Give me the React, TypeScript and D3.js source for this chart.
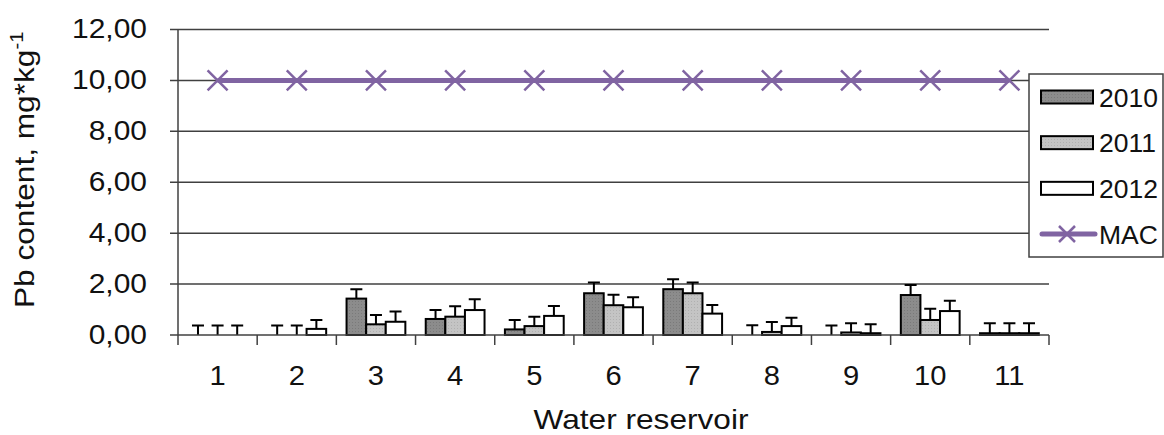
import React, { useEffect, useRef } from 'react';
import * as d3 from 'd3';

const categories = ['1', '2', '3', '4', '5', '6', '7', '8', '9', '10', '11'];
const years = ['2010', '2011', '2012'];
const values2010 = [0, 0, 1.43, 0.63, 0.22, 1.64, 1.8, 0, 0, 1.57, 0.07];
const values2011 = [0, 0, 0.42, 0.72, 0.35, 1.17, 1.64, 0.12, 0.1, 0.59, 0.07];
const values2012 = [0, 0.24, 0.52, 0.98, 0.75, 1.09, 0.84, 0.35, 0.07, 0.94, 0.07];
const errors2010 = [0.37, 0.37, 0.37, 0.35, 0.37, 0.42, 0.39, 0.38, 0.37, 0.39, 0.39];
const errors2011 = [0.37, 0.37, 0.37, 0.41, 0.37, 0.41, 0.42, 0.39, 0.36, 0.44, 0.39];
const errors2012 = [0.37, 0.35, 0.4, 0.42, 0.39, 0.39, 0.34, 0.33, 0.35, 0.41, 0.39];
const macValues = [10, 10, 10, 10, 10, 10, 10, 10, 10, 10, 10];
const yTicks = [0, 2, 4, 6, 8, 10, 12];

const fills = ['#8c8c8c', '#c4c4c4', '#ffffff'];
const purple = '#8064a2';
const font = '"Liberation Sans", Arial, sans-serif';
const ink = '#111';

function App() {
  const ref = useRef<SVGSVGElement>(null);

  useEffect(() => {
    const svg = d3.select(ref.current);
    svg.selectAll('*').remove();

    const margin = { top: 29.5, left: 178, right: 1049, bottom: 335 };
    const x = d3.scaleBand().domain(categories).range([margin.left, margin.right]);
    const xs = d3.scaleBand().domain(years).range([0, x.bandwidth()]).paddingOuter(0.52);
    const y = d3.scaleLinear().domain([0, 12]).range([margin.bottom, margin.top]);

    // dotted grey fills
    const defs = svg.append('defs');
    const pat = defs.append('pattern').attr('id', 'dots').attr('width', 3).attr('height', 3)
      .attr('patternUnits', 'userSpaceOnUse');
    pat.append('rect').attr('width', 3).attr('height', 3).attr('fill', fills[0]);
    pat.append('rect').attr('x', 1).attr('y', 1).attr('width', 1).attr('height', 1).attr('fill', '#7a7a7a');
    const pat2 = defs.append('pattern').attr('id', 'dots2').attr('width', 3).attr('height', 3)
      .attr('patternUnits', 'userSpaceOnUse');
    pat2.append('rect').attr('width', 3).attr('height', 3).attr('fill', fills[1]);
    pat2.append('rect').attr('x', 1).attr('y', 1).attr('width', 1).attr('height', 1).attr('fill', '#b0b0b0');
    const fillRefs = ['url(#dots)', 'url(#dots2)', fills[2]];

    // gridlines + y labels
    svg.append('g').selectAll('line').data(yTicks.filter(d => d > 0)).enter().append('line')
      .attr('x1', margin.left - 8).attr('x2', margin.right)
      .attr('y1', d => y(d)).attr('y2', d => y(d))
      .attr('stroke', '#404040').attr('stroke-width', 1.5);

    svg.append('g').selectAll('text').data(yTicks).enter().append('text')
      .attr('transform', d => `translate(147,${y(d) + 8.5}) scale(1.07,1)`)
      .attr('text-anchor', 'end').style('font-family', font).style('font-size', '28px')
      .attr('fill', ink)
      .text(d => d3.format('.2f')(d).replace('.', ','));

    // bars
    const series = [values2010, values2011, values2012];
    const errs = [errors2010, errors2011, errors2012];
    series.forEach((vals, si) => {
      const g = svg.append('g');
      const bx = (i: number) => (x(categories[i]) as number) + (xs(years[si]) as number);
      g.selectAll('rect').data(vals).enter().append('rect')
        .attr('x', (d, i) => bx(i))
        .attr('y', d => y(d))
        .attr('width', xs.bandwidth())
        .attr('height', d => y(0) - y(d))
        .attr('fill', fillRefs[si])
        .attr('stroke', '#000').attr('stroke-width', 2);
      // error bars
      g.selectAll('path.err').data(vals).enter().append('path')
        .attr('class', 'err')
        .attr('d', (d, i) => {
          const cx = bx(i) + xs.bandwidth() / 2;
          const top = y(d + errs[si][i]);
          return `M${cx},${y(d)}V${top}M${cx - 6},${top}H${cx + 6}`;
        })
        .attr('fill', 'none').attr('stroke', '#000').attr('stroke-width', 2);
    });

    // axes lines
    svg.append('line').attr('x1', margin.left - 8).attr('x2', margin.right)
      .attr('y1', y(0)).attr('y2', y(0)).attr('stroke', '#404040').attr('stroke-width', 1.5);
    svg.append('line').attr('x1', margin.left).attr('x2', margin.left)
      .attr('y1', y(12)).attr('y2', y(0) + 10).attr('stroke', '#404040').attr('stroke-width', 1.5);
    const bounds = categories.map(c => (x(c) as number) + x.bandwidth());
    svg.append('g').selectAll('line').data(bounds).enter().append('line')
      .attr('x1', d => d).attr('x2', d => d)
      .attr('y1', y(0)).attr('y2', y(0) + 10).attr('stroke', '#404040').attr('stroke-width', 1.5);

    svg.append('g').selectAll('text').data(categories).enter().append('text')
      .attr('transform', d => `translate(${(x(d) as number) + x.bandwidth() / 2},385) scale(1.04,1)`)
      .attr('text-anchor', 'middle').style('font-family', font).style('font-size', '28px')
      .attr('fill', ink).text(d => d);

    // MAC line
    const line = d3.line<number>()
      .x((d, i) => (x(categories[i]) as number) + x.bandwidth() / 2)
      .y(d => y(d));
    svg.append('path').datum(macValues).attr('d', line)
      .attr('fill', 'none').attr('stroke', purple).attr('stroke-width', 5);
    svg.append('g').selectAll('path').data(macValues).enter().append('path')
      .attr('d', (d, i) => {
        const cx = (x(categories[i]) as number) + x.bandwidth() / 2;
        const cy = y(d);
        return `M${cx - 10},${cy - 10}L${cx + 10},${cy + 10}M${cx - 10},${cy + 10}L${cx + 10},${cy - 10}`;
      })
      .attr('stroke', purple).attr('stroke-width', 2.5);

    // titles
    svg.append('text').attr('transform', 'translate(641,428.5) scale(1.13,1)')
      .attr('text-anchor', 'middle').style('font-family', font).style('font-size', '28px')
      .attr('fill', ink).text('Water reservoir');
    const yt = svg.append('text').attr('transform', 'translate(34,308) rotate(-90) scale(1.13,1)')
      .attr('text-anchor', 'start').style('font-family', font).style('font-size', '28px')
      .attr('fill', ink);
    yt.append('tspan').text('Pb content, mg*kg');
    yt.append('tspan').attr('dy', '-0.6em').style('font-size', '18px').text('-1');

    // legend
    const lg = svg.append('g');
    lg.append('rect').attr('x', 1029).attr('y', 74).attr('width', 134).attr('height', 183)
      .attr('fill', '#fff').attr('stroke', '#404040').attr('stroke-width', 1.5);
    const rows = [...years, 'MAC'];
    const ly = d3.scalePoint().domain(rows).range([97, 234]);
    years.forEach((yr, i) => {
      lg.append('rect').attr('x', 1041).attr('y', (ly(yr) as number) - 6.5).attr('width', 52).attr('height', 13)
        .attr('fill', fillRefs[i]).attr('stroke', '#000').attr('stroke-width', 2);
    });
    const my = ly('MAC') as number;
    lg.append('line').attr('x1', 1042).attr('x2', 1095).attr('y1', my).attr('y2', my)
      .attr('stroke', purple).attr('stroke-width', 5).attr('stroke-linecap', 'round');
    lg.append('path').attr('d', `M1059,${my - 8}L1075,${my + 8}M1059,${my + 8}L1075,${my - 8}`)
      .attr('stroke', purple).attr('stroke-width', 2.5);
    lg.selectAll('text.l').data(rows).enter().append('text')
      .attr('x', 1099).attr('y', d => (ly(d) as number) + 9.5)
      .style('font-family', font).style('font-size', '26.5px').attr('fill', ink).text(d => d);
  }, []);

  return (
    <svg ref={ref} width={1164} height={435}
      style={{ position: 'absolute', left: 0, top: 0, background: '#fff' }} />
  );
}

export default App;
